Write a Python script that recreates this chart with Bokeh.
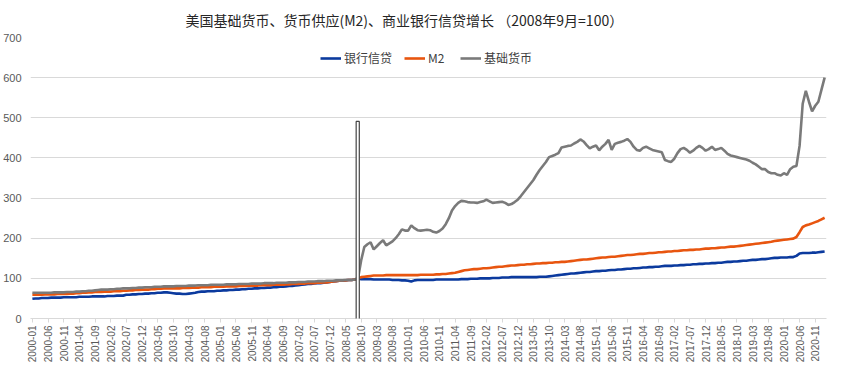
from bokeh.plotting import figure
from bokeh.models import (ColumnDataSource, FixedTicker, Legend, LegendItem,
                          BoxAnnotation, Range1d)
from bokeh.embed import file_html
from bokeh.resources import INLINE
from math import pi

TITLE = "美国基础货币、货币供应(M2)、商业银行信贷增长  （2008年9月=100）"
SERIES_NAMES = ["银行信贷", "M2", "基础货币"]

# month categories 2000-01 .. 2021-02
months = [f"{y}-{m:02d}" for y in range(2000, 2022) for m in range(1, 13)][:254]

bank_credit = [
    49, 50, 50, 51, 51, 51, 52, 52, 52, 52, 53, 53,          # 2000
    53, 53, 53, 54, 54, 54, 54, 55, 55, 55, 55, 55,          # 2001
    56, 56, 56, 57, 57, 57, 59, 59, 60, 60, 61, 61,          # 2002
    62, 62, 63, 63, 64, 64, 65, 65, 64, 63, 62, 62,          # 2003
    61, 61, 62, 63, 64, 66, 67, 67, 68, 68, 68, 69,          # 2004
    69, 70, 70, 71, 71, 72, 72, 73, 73, 74, 74, 75,          # 2005
    75, 76, 76, 77, 77, 78, 78, 79, 79, 80, 81, 81,          # 2006
    82, 83, 84, 85, 86, 86, 87, 88, 88, 89, 90, 91,          # 2007
    92, 93, 94, 94, 95, 96, 96, 97, 100, 98, 98, 98,         # 2008
    98, 97, 97, 97, 97, 97, 97, 96, 96, 96, 95, 95,          # 2009
    94, 92, 95, 96, 96, 96, 96, 96, 96, 97, 97, 97,          # 2010
    97, 97, 97, 97, 97, 98, 98, 98, 99, 99, 99, 100,         # 2011
    100, 100, 100, 101, 101, 101, 102, 102, 102, 103, 103, 103,  # 2012
    103, 103, 103, 103, 103, 103, 104, 104, 104, 105, 106, 107,  # 2013
    108, 109, 110, 111, 112, 112, 113, 114, 115, 116, 116, 117,  # 2014
    118, 118, 119, 119, 120, 121, 121, 122, 122, 123, 124, 124,  # 2015
    125, 125, 126, 127, 127, 128, 128, 129, 129, 130, 131, 131,  # 2016
    131, 132, 132, 133, 133, 134, 134, 135, 135, 136, 136, 137,  # 2017
    137, 138, 138, 139, 139, 140, 141, 141, 142, 142, 143, 144,  # 2018
    144, 145, 146, 146, 147, 148, 148, 149, 150, 151, 151, 152,  # 2019
    152, 152, 153, 153, 156, 162, 163, 163, 163, 164, 164, 165,  # 2020
    166, 167,                                                    # 2021
]

m2 = [
    59, 59, 59, 59, 60, 60, 60, 60, 61, 61, 61, 61,          # 2000
    62, 62, 63, 63, 64, 64, 65, 65, 66, 66, 66, 67,          # 2001
    67, 67, 68, 68, 68, 69, 69, 70, 70, 71, 71, 72,          # 2002
    72, 72, 73, 73, 74, 74, 75, 75, 75, 75, 75, 75,          # 2003
    76, 76, 76, 77, 77, 77, 78, 78, 78, 78, 79, 79,          # 2004
    79, 79, 80, 80, 80, 80, 81, 81, 81, 82, 82, 82,          # 2005
    82, 83, 83, 83, 83, 84, 84, 84, 84, 85, 85, 86,          # 2006
    86, 86, 87, 87, 88, 88, 88, 89, 89, 90, 90, 91,          # 2007
    92, 93, 94, 95, 95, 96, 96, 97, 100, 103, 104, 105,      # 2008
    106, 107, 107, 107, 107, 108, 108, 108, 108, 108, 108, 108,  # 2009
    108, 108, 108, 108, 109, 109, 109, 109, 109, 110, 110, 111,  # 2010
    111, 112, 113, 114, 116, 118, 120, 121, 122, 123, 123, 124,  # 2011
    125, 125, 126, 127, 128, 129, 129, 130, 131, 132, 132, 133,  # 2012
    134, 134, 135, 135, 136, 137, 137, 138, 138, 139, 139, 140,  # 2013
    140, 141, 141, 142, 143, 144, 145, 146, 147, 147, 148, 149,  # 2014
    150, 151, 152, 152, 153, 154, 154, 155, 156, 157, 158, 158,  # 2015
    159, 160, 161, 161, 162, 163, 163, 164, 165, 165, 166, 167,  # 2016
    167, 168, 168, 169, 170, 170, 171, 171, 172, 172, 173, 174,  # 2017
    174, 175, 175, 176, 177, 177, 178, 179, 179, 180, 181, 182,  # 2018
    183, 184, 185, 186, 187, 188, 189, 190, 191, 193, 194, 195,  # 2019
    196, 197, 198, 199, 203, 215, 228, 232, 234, 237, 240, 243,  # 2020
    247, 251,                                                    # 2021
]

base_money = [
    64, 64, 64, 64, 64, 64, 64, 65, 65, 65, 65, 66,          # 2000
    66, 66, 67, 67, 68, 68, 69, 69, 70, 71, 72, 72,          # 2001
    72, 73, 73, 74, 74, 75, 75, 75, 76, 76, 77, 77,          # 2002
    78, 78, 78, 79, 79, 79, 80, 80, 80, 80, 81, 81,          # 2003
    81, 81, 82, 82, 82, 83, 83, 83, 83, 84, 84, 84,          # 2004
    84, 84, 85, 85, 85, 85, 86, 86, 86, 86, 87, 87,          # 2005
    87, 87, 88, 88, 88, 88, 89, 89, 89, 89, 90, 90,          # 2006
    90, 91, 91, 91, 92, 92, 92, 93, 93, 93, 94, 94,          # 2007
    94, 95, 95, 95, 96, 96, 96, 97, 100, 145, 178, 185,      # 2008
    190, 172, 180, 188, 195, 182, 187, 192, 200, 210, 222, 219,  # 2009
    219, 232, 225, 220, 219, 220, 221, 220, 216, 214, 218, 224,  # 2010
    235, 250, 269, 280, 288, 293, 292, 290, 289, 289, 288, 290,  # 2011
    292, 296, 292, 288, 289, 290, 291, 288, 283, 285, 290, 296,  # 2012
    305, 315, 325, 335, 345, 358, 370, 380, 390, 402, 405, 408,  # 2013
    412, 426, 428, 430, 431, 436, 440, 446, 441, 432, 424, 428,  # 2014
    431, 419, 428, 435, 445, 420, 435, 438, 440, 443, 447, 440,  # 2015
    428, 420, 418, 425, 428, 424, 420, 418, 416, 414, 395, 392,  # 2016
    390, 398, 412, 422, 425, 420, 413, 418, 425, 430, 425, 418,  # 2017
    422, 428, 420, 422, 425, 418, 410, 406, 404, 402, 400, 398,  # 2018
    396, 393, 388, 384, 378, 372, 372, 365, 362, 362, 358, 356,  # 2019
    362, 358, 372, 378, 380, 430, 535, 567, 540, 516, 530, 540,  # 2020
    570, 600,                                                    # 2021
]

y_ticks = [0, 100, 200, 300, 400, 500, 600, 700]
marker_month = "2008-09"

COLORS = ["#0b3a9e", "#e8550f", "#7a7a7a"]
LABEL_COLOR = "#595959"
GRID_COLOR = "#d9d9d9"

idx = list(range(len(months)))
src = ColumnDataSource(dict(x=idx, bank=bank_credit, m2=m2, base=base_money))

p = figure(width=838, height=377, output_backend="svg", toolbar_location=None,
           x_range=Range1d(-0.6, len(months) - 0.4), y_range=Range1d(0, 700),
           min_border_left=21, min_border_right=12, min_border_top=34,
           min_border_bottom=59, background_fill_color="white",
           border_fill_color="white")
p.outline_line_color = None

p.title.text = TITLE
p.title.text_font = "Noto Sans CJK SC"
p.title.text_font_size = "14px"
p.title.text_font_style = "normal"
p.title.text_color = "#262626"
p.title.align = "left"
p.title.offset = 155
p.title.standoff = 15

# vertical double-line marker
mi = months.index(marker_month) - 0.1
p.add_layout(BoxAnnotation(left=mi - 0.5, right=mi + 0.5, top=491, bottom=-95,
                           fill_color="white", fill_alpha=1.0,
                           line_color="#444444", line_alpha=1.0, line_width=1.2))

r_bank = p.line("x", "bank", source=src, line_color=COLORS[0], line_width=2.6)
r_m2 = p.line("x", "m2", source=src, line_color=COLORS[1], line_width=2.6)
r_base = p.line("x", "base", source=src, line_color=COLORS[2], line_width=2.6)

# axes
p.xaxis.ticker = FixedTicker(ticks=list(range(0, len(months), 5)))
p.xaxis.major_label_overrides = {i: months[i] for i in range(0, len(months), 5)}
p.xaxis.major_label_orientation = pi / 2
p.xaxis.major_label_text_font = "Liberation Sans"
p.xaxis.major_label_text_font_size = "10px"
p.xaxis.major_label_text_color = LABEL_COLOR
p.xaxis.major_label_standoff = 3
p.xaxis.axis_line_color = GRID_COLOR
p.xaxis.major_tick_line_color = GRID_COLOR
p.xaxis.major_tick_out = 4
p.xaxis.major_tick_in = 0
p.xaxis.minor_tick_line_color = None

p.yaxis.ticker = FixedTicker(ticks=y_ticks)
p.yaxis.major_label_text_font = "Liberation Sans"
p.yaxis.major_label_text_font_size = "11px"
p.yaxis.major_label_text_color = LABEL_COLOR
p.yaxis.major_label_standoff = 3
p.yaxis.axis_line_color = None
p.yaxis.major_tick_line_color = None
p.yaxis.minor_tick_line_color = None

p.xgrid.grid_line_color = None
p.ygrid.grid_line_color = GRID_COLOR
p.ygrid.grid_line_width = 1

legend = Legend(items=[LegendItem(label=SERIES_NAMES[0], renderers=[r_bank]),
                       LegendItem(label=SERIES_NAMES[1], renderers=[r_m2]),
                       LegendItem(label=SERIES_NAMES[2], renderers=[r_base])],
                orientation="horizontal", location=(290, 252))
legend.label_text_font = "Noto Sans CJK SC"
legend.label_text_font_size = "12px"
legend.label_text_color = "#404040"
legend.glyph_width = 21
legend.glyph_height = 14
legend.label_height = 14
legend.label_standoff = 3
legend.spacing = 12
legend.padding = 4
legend.margin = 0
legend.border_line_color = None
legend.background_fill_alpha = 0
p.add_layout(legend)

open("out.html", "w").write(file_html(p, INLINE))
